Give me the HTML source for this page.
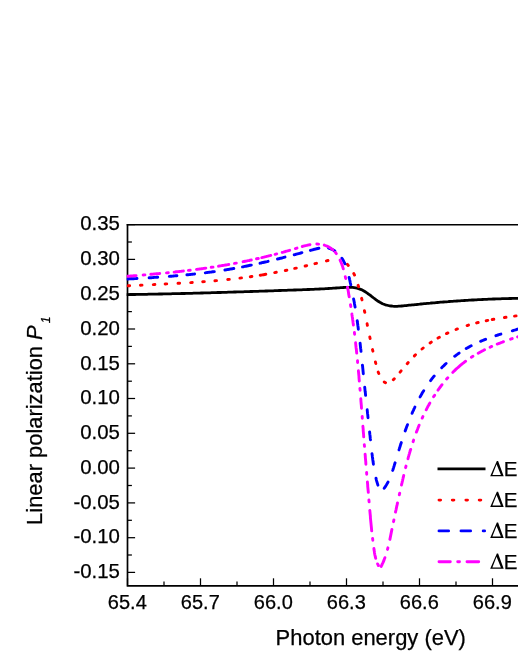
<!DOCTYPE html>
<html><head><meta charset="utf-8"><title>chart</title>
<style>html,body{margin:0;padding:0;background:#fff;overflow:hidden}svg{display:block;will-change:transform}text{font-family:"Liberation Sans",sans-serif;fill:#000;stroke:#000;stroke-width:0.25px}</style></head><body>
<svg width="518" height="670" viewBox="0 0 518 670">
<rect width="518" height="670" fill="#fff"/>
<g stroke="#000" stroke-width="1.7" fill="none">
<path d="M127.5 224.0 V585.9 H520"/>
<path d="M126.7 224.7 H520" stroke-width="1.45"/>
</g><g stroke="#000" stroke-width="1.25" fill="none">
<path d="M127.5 572.4h7.6"/>
<path d="M127.5 555.0h4.4"/>
<path d="M127.5 537.7h7.6"/>
<path d="M127.5 520.3h4.4"/>
<path d="M127.5 502.9h7.6"/>
<path d="M127.5 485.5h4.4"/>
<path d="M127.5 468.1h7.6"/>
<path d="M127.5 450.7h4.4"/>
<path d="M127.5 433.3h7.6"/>
<path d="M127.5 415.9h4.4"/>
<path d="M127.5 398.5h7.6"/>
<path d="M127.5 381.2h4.4"/>
<path d="M127.5 363.8h7.6"/>
<path d="M127.5 346.4h4.4"/>
<path d="M127.5 329.0h7.6"/>
<path d="M127.5 311.6h4.4"/>
<path d="M127.5 294.2h7.6"/>
<path d="M127.5 276.8h4.4"/>
<path d="M127.5 259.4h7.6"/>
<path d="M127.5 242.0h4.4"/>
<path d="M127.5 224.6h7.6"/>
<path d="M127.5 585.9v-7.6"/>
<path d="M164.0 585.9v-4.4"/>
<path d="M200.5 585.9v-7.6"/>
<path d="M237.0 585.9v-4.4"/>
<path d="M273.5 585.9v-7.6"/>
<path d="M310.0 585.9v-4.4"/>
<path d="M346.5 585.9v-7.6"/>
<path d="M383.0 585.9v-4.4"/>
<path d="M419.5 585.9v-7.6"/>
<path d="M456.0 585.9v-4.4"/>
<path d="M492.5 585.9v-7.6"/>
<path d="M529.0 585.9v-4.4"/>
</g>
<clipPath id="c"><rect x="126.7" y="224.6" width="400" height="361.3"/></clipPath>
<g fill="none" stroke-linejoin="round" stroke-linecap="round" clip-path="url(#c)">
<path d="M126.0 294.6L127.5 294.6L129.0 294.6L130.5 294.5L132.0 294.5L133.5 294.5L135.0 294.5L136.5 294.4L138.0 294.4L139.5 294.4L141.0 294.4L142.5 294.4L144.0 294.3L145.5 294.3L147.0 294.3L148.5 294.2L150.0 294.2L151.5 294.2L153.0 294.2L154.5 294.1L156.0 294.1L157.5 294.1L159.0 294.0L160.5 294.0L162.0 294.0L163.5 293.9L165.0 293.9L166.5 293.9L168.0 293.8L169.5 293.8L171.0 293.8L172.5 293.7L174.0 293.7L175.5 293.7L177.0 293.6L178.5 293.6L180.0 293.6L181.5 293.5L183.0 293.5L184.5 293.5L186.1 293.4L187.6 293.4L189.1 293.3L190.6 293.3L192.1 293.3L193.6 293.2L195.1 293.2L196.6 293.1L198.1 293.1L199.6 293.1L201.1 293.0L202.6 293.0L204.1 292.9L205.6 292.9L207.1 292.9L208.6 292.8L210.1 292.8L211.6 292.7L213.1 292.7L214.6 292.6L216.1 292.6L217.6 292.5L219.1 292.5L220.6 292.5L222.1 292.4L223.6 292.4L225.1 292.3L226.6 292.3L228.1 292.2L229.6 292.2L231.1 292.1L232.6 292.1L234.1 292.0L235.6 292.0L237.1 291.9L238.6 291.9L240.1 291.8L241.6 291.8L243.1 291.8L244.6 291.7L246.1 291.7L247.6 291.6L249.1 291.6L250.6 291.5L252.1 291.5L253.6 291.4L255.1 291.4L256.6 291.3L258.1 291.3L259.6 291.2L261.1 291.2L262.6 291.1L264.1 291.1L265.6 291.0L267.1 291.0L268.6 290.9L270.1 290.9L271.6 290.8L273.1 290.8L274.6 290.7L276.1 290.6L277.6 290.6L279.1 290.5L280.6 290.5L282.1 290.4L283.6 290.4L285.1 290.3L286.6 290.3L288.1 290.2L289.6 290.2L291.1 290.1L292.6 290.1L294.1 290.0L295.6 290.0L297.1 289.9L298.6 289.9L300.1 289.8L301.6 289.8L303.1 289.7L304.6 289.6L306.1 289.6L307.6 289.5L309.1 289.5L310.6 289.4L312.1 289.3L313.6 289.3L315.1 289.2L316.6 289.1L318.1 289.1L319.6 289.0L321.1 288.9L322.6 288.8L324.1 288.8L325.6 288.7L327.1 288.6L328.6 288.5L330.1 288.4L331.6 288.3L333.1 288.2L334.6 288.1L336.1 288.0L337.6 287.9L339.1 287.8L340.6 287.7L342.1 287.6L343.6 287.5L345.1 287.4L346.6 287.3L348.1 287.3L349.6 287.3L351.1 287.3L352.6 287.4L354.1 287.6L355.6 287.8L357.0 288.1L358.5 288.6L359.9 289.1L361.3 289.6L362.6 290.3L363.9 291.0L365.2 291.8L366.5 292.6L367.7 293.5L368.9 294.3L370.1 295.2L371.3 296.2L372.5 297.1L373.7 298.0L374.9 298.9L376.1 299.8L377.3 300.7L378.6 301.5L379.9 302.3L381.2 303.0L382.5 303.7L383.9 304.2L385.3 304.8L386.8 305.2L388.2 305.5L389.7 305.8L391.2 306.0L392.7 306.2L394.2 306.3L395.7 306.3L397.2 306.3L398.7 306.2L400.2 306.1L401.7 306.0L403.2 305.9L404.7 305.7L406.2 305.6L407.6 305.4L409.1 305.2L410.6 305.1L412.1 304.9L413.6 304.8L415.1 304.6L416.6 304.5L418.1 304.3L419.6 304.2L421.1 304.0L422.6 303.9L424.1 303.7L425.6 303.6L427.1 303.4L428.6 303.3L430.1 303.2L431.6 303.0L433.1 302.9L434.5 302.8L436.0 302.6L437.5 302.5L439.0 302.4L440.5 302.2L442.0 302.1L443.5 302.0L445.0 301.9L446.5 301.8L448.0 301.7L449.5 301.5L451.0 301.4L452.5 301.3L454.0 301.2L455.5 301.1L457.0 301.0L458.5 300.9L460.0 300.8L461.5 300.7L463.0 300.6L464.5 300.5L466.0 300.4L467.5 300.3L469.0 300.2L470.5 300.1L472.0 300.0L473.5 300.0L475.0 299.9L476.5 299.8L478.0 299.7L479.5 299.6L481.0 299.6L482.5 299.5L484.0 299.4L485.5 299.4L487.0 299.3L488.5 299.2L490.0 299.2L491.5 299.1L493.0 299.0L494.5 299.0L496.0 298.9L497.5 298.9L499.0 298.8L500.5 298.8L502.0 298.7L503.5 298.7L505.0 298.6L506.5 298.6L508.0 298.6L509.5 298.5L511.0 298.5L512.5 298.4L514.0 298.4L515.5 298.4L517.0 298.4L518.5 298.3L520.0 298.3" stroke="#000" stroke-width="2.8"/>
<path d="M128.0 285.8L129.6 285.7M140.4 285.2L142.0 285.1M153.3 284.6L154.9 284.5M165.1 284.0L166.7 283.9M178.0 283.3L179.6 283.2M190.7 282.6L192.3 282.5M202.7 281.7L204.3 281.6M214.9 280.8L216.5 280.6M227.7 279.5L229.3 279.4M239.9 278.1L241.5 277.9M250.3 276.7L251.9 276.5M260.2 275.2L261.3 275.1L262.4 274.9L263.6 274.7L264.7 274.5L265.8 274.3M274.7 272.6L276.3 272.3M285.3 270.5L286.9 270.2M294.7 268.4L296.3 268.1M305.1 266.0L306.7 265.7M314.9 263.7L316.5 263.3M326.4 260.9L328.0 260.5M347.3 264.3L348.3 265.4M353.8 273.6L354.5 275.0M358.1 285.3L358.6 286.7M361.6 298.3L362.0 299.9M364.4 310.7L364.8 312.3M367.1 323.8L367.4 325.4M369.8 337.0L370.1 338.6M372.5 349.6L372.9 351.2M375.4 361.9L375.8 363.5M378.2 372.1L378.8 373.5M384.2 381.9L385.5 382.7M393.3 379.8L394.3 378.7M400.1 372.1L401.1 370.9M407.2 363.7L408.2 362.5M414.4 355.9L415.5 354.8M422.0 349.0L423.2 348.0M430.1 343.0L431.3 342.1M438.0 338.0L439.4 337.3M446.5 333.6L447.9 332.9M456.0 329.5L457.4 328.9M467.1 325.6L468.5 325.1M476.6 322.9L478.2 322.5M486.2 320.7L487.8 320.4M492.2 319.5L493.8 319.3M504.4 317.5L506.0 317.3M514.5 316.1L516.1 315.9" stroke="#ff0000" stroke-width="2.9"/>
<path d="M127.1 279.0L128.2 279.0L129.3 278.9L130.4 278.9L131.5 278.8L132.6 278.8L133.7 278.7L134.8 278.6L135.9 278.6L137.0 278.5M149.1 277.8L150.2 277.7L151.3 277.7L152.3 277.6L153.4 277.5L154.5 277.4L155.5 277.4L156.6 277.3L157.7 277.2M169.3 276.4L170.4 276.3L171.5 276.2L172.6 276.1L173.6 276.0L174.7 275.9L175.8 275.8L176.9 275.7M186.9 274.8L188.0 274.7L189.1 274.6L190.2 274.5L191.3 274.4L192.4 274.2L193.5 274.1L194.6 274.0M205.3 272.8L206.3 272.6L207.3 272.5L208.3 272.4L209.3 272.2L210.3 272.1L211.3 272.0L212.3 271.8L213.3 271.7L214.3 271.6M224.9 270.0L225.9 269.8L226.9 269.7L227.9 269.5L228.9 269.3L229.8 269.2L230.8 269.0L231.8 268.8L232.8 268.7L233.8 268.5M242.5 266.9L243.6 266.7L244.7 266.4L245.8 266.2L246.9 266.0L248.0 265.8L249.1 265.5L250.2 265.3L251.3 265.1M260.0 263.2L261.0 263.0L262.0 262.7L263.0 262.5L264.1 262.3L265.1 262.0L266.1 261.8L267.1 261.6L268.1 261.3M277.5 259.0L278.6 258.8L279.6 258.5L280.7 258.2L281.8 258.0L282.9 257.7L283.9 257.4L285.0 257.1M294.2 254.7L295.3 254.5L296.4 254.2L297.5 253.9L298.6 253.6L299.7 253.3L300.8 253.0L301.9 252.7M310.4 250.4L311.4 250.1L312.5 249.8L313.6 249.5L314.6 249.2L315.7 249.0L316.7 248.7L317.8 248.5L318.9 248.3M328.6 248.2L329.7 248.5L330.8 248.9L331.8 249.3L332.8 249.8L333.8 250.3L334.8 251.0M341.9 258.2L342.5 259.1L343.0 260.0L343.5 260.9L344.0 261.9L344.5 262.8L344.9 263.8M349.1 277.5L349.4 278.5L349.6 279.6L349.9 280.7L350.1 281.7L350.3 282.8L350.6 283.8L350.8 284.9M353.6 299.0L353.8 300.0L354.0 301.0L354.2 302.0L354.4 303.0L354.5 304.0L354.7 305.0L354.9 306.0L355.1 307.0M357.2 320.7L357.3 321.8L357.5 322.8L357.6 323.9L357.8 324.9L357.9 326.0L358.1 327.1L358.2 328.1L358.3 329.2M360.1 343.1L360.2 344.1L360.3 345.2L360.4 346.2L360.5 347.2L360.6 348.2L360.8 349.2L360.9 350.3L361.0 351.3M362.4 365.1L362.6 366.2L362.7 367.3L362.8 368.3L362.9 369.4L363.0 370.5L363.1 371.5L363.2 372.6L363.3 373.7M364.7 387.1L364.8 388.2L364.9 389.2L365.0 390.2L365.1 391.3L365.3 392.3L365.4 393.3L365.5 394.3L365.6 395.4M367.2 409.8L367.3 410.9L367.4 412.1L367.5 413.2L367.7 414.3L367.8 415.4L367.9 416.6L368.0 417.7M369.6 431.9L369.7 433.0L369.8 434.2L370.0 435.3L370.1 436.4L370.2 437.5L370.3 438.7L370.5 439.8M372.0 453.8L372.2 454.9L372.3 455.9L372.4 456.9L372.6 458.0L372.7 459.0L372.8 460.0L373.0 461.1L373.1 462.1L373.3 463.2L373.4 464.2M376.0 478.1L376.2 479.1L376.4 480.1L376.7 481.2L377.0 482.2L377.3 483.2L377.6 484.2L377.9 485.2M384.2 488.3L384.8 487.4L385.4 486.6L385.9 485.7L386.5 484.8L387.0 483.9L387.5 483.0L388.0 482.1M392.7 470.4L393.0 469.5L393.3 468.5L393.6 467.6L393.9 466.6L394.2 465.7L394.5 464.7L394.8 463.7L395.1 462.8M399.0 449.9L399.3 448.9L399.6 447.8L400.0 446.8L400.3 445.7L400.6 444.7L401.0 443.6L401.3 442.6M405.2 430.9L405.6 429.9L406.0 428.8L406.3 427.8L406.7 426.7L407.1 425.7L407.5 424.7M412.1 413.3L412.5 412.2L413.0 411.2L413.5 410.1L413.9 409.1L414.4 408.1L414.9 407.0M420.1 396.9L420.6 396.0L421.1 395.1L421.6 394.2L422.1 393.3L422.6 392.4L423.2 391.5L423.7 390.7M430.6 380.6L431.3 379.7L432.0 378.7L432.7 377.8L433.4 376.9L434.2 376.0M441.7 367.7L442.4 367.0L443.1 366.3L443.9 365.6L444.6 364.9L445.3 364.2L446.1 363.5M454.7 356.3L455.6 355.7L456.4 355.0L457.3 354.4L458.2 353.7L459.1 353.1M466.2 348.6L467.2 348.0L468.2 347.4L469.2 346.9L470.2 346.3L471.2 345.8M480.6 341.3L481.6 340.9L482.6 340.5L483.6 340.1L484.6 339.7L485.6 339.3M495.9 335.7L496.9 335.3L497.9 335.0L498.9 334.7L499.9 334.4L500.9 334.1M512.3 330.8L513.4 330.5L514.5 330.1L515.6 329.8L516.6 329.5L517.7 329.2L518.8 328.9L519.9 328.6" stroke="#0000ff" stroke-width="2.9"/>
<path d="M127.1 276.3L128.2 276.2L129.4 276.1L130.5 276.0L131.6 276.0L132.7 275.9L133.8 275.8L135.0 275.7L136.1 275.6M143.1 275.0L144.9 274.9M150.8 274.3L151.9 274.2L153.0 274.1L154.1 274.0L155.3 273.9L156.4 273.8L157.5 273.7L158.6 273.6L159.7 273.5M166.5 272.9L168.3 272.7M174.1 272.1L175.1 272.0L176.2 271.8L177.2 271.7L178.2 271.6L179.3 271.5L180.3 271.4L181.3 271.3L182.4 271.1L183.4 271.0M188.4 270.4L190.2 270.2M196.5 269.4L197.5 269.3L198.6 269.1L199.6 269.0L200.6 268.9L201.7 268.7L202.7 268.6L203.7 268.4L204.8 268.3L205.8 268.1M211.2 267.3L213.0 267.1M218.5 266.2L219.5 266.0L220.6 265.9L221.6 265.7L222.6 265.5L223.7 265.4L224.7 265.2L225.7 265.0L226.7 264.8L227.8 264.6L228.8 264.5M234.5 263.4L236.3 263.1M243.1 261.7L244.1 261.5L245.2 261.3L246.2 261.1L247.2 260.9L248.2 260.7L249.3 260.5L250.3 260.2L251.3 260.0M256.5 258.8L258.3 258.5M261.8 257.6L262.8 257.4L263.8 257.2L264.8 256.9L265.8 256.7L266.8 256.4L267.8 256.2L268.8 255.9L269.8 255.7L270.8 255.4M275.1 254.3L276.7 253.9M282.2 252.4L283.3 252.1L284.3 251.8L285.4 251.5L286.5 251.2L287.6 250.9L288.6 250.6L289.7 250.3M295.4 248.6L297.0 248.1M302.3 246.5L303.4 246.2L304.5 245.9L305.6 245.6L306.7 245.4L307.8 245.1L308.9 244.9L310.0 244.7M316.8 244.0L318.6 244.1M324.3 245.1L325.3 245.5L326.4 245.9L327.4 246.3L328.4 246.8L329.3 247.3L330.3 247.9L331.2 248.5L332.0 249.2L332.9 249.9M335.2 252.2L336.3 253.6M340.1 260.1L340.5 261.1L340.9 262.0L341.3 263.0L341.7 263.9L342.0 264.9L342.4 265.9L342.7 266.8L343.0 267.8L343.3 268.8M345.3 276.7L345.7 278.5M347.5 287.1L347.7 288.2L347.9 289.3L348.1 290.3L348.3 291.4L348.5 292.5L348.6 293.6L348.8 294.6L349.0 295.7L349.2 296.8M350.5 304.8L350.8 306.6M351.9 314.0L352.0 315.0L352.2 316.0L352.3 317.0L352.5 318.0L352.6 319.0L352.7 320.0L352.9 321.0L353.0 322.0L353.1 323.0L353.3 324.0L353.4 325.0M354.4 332.4L354.6 334.2M355.6 342.8L355.7 343.8L355.8 344.9L355.9 345.9L356.0 346.9L356.1 347.9L356.3 349.0L356.4 350.0L356.5 351.0L356.6 352.1L356.7 353.1M357.5 360.7L357.6 362.5M358.4 370.8L358.5 371.8L358.6 372.9L358.7 373.9L358.8 374.9L358.9 375.9L359.0 376.9L359.0 377.9L359.1 378.9L359.2 380.0L359.3 381.0M359.9 388.4L360.1 390.2M360.8 398.8L360.9 399.9L360.9 400.9L361.0 401.9L361.1 403.0L361.2 404.0L361.3 405.1L361.4 406.1L361.4 407.1L361.5 408.2M362.2 416.4L362.3 418.2M362.9 426.3L363.0 427.4L363.1 428.4L363.2 429.5L363.2 430.5L363.3 431.6L363.4 432.6L363.5 433.6L363.6 434.7L363.6 435.7L363.7 436.8M364.3 444.6L364.5 446.4M365.1 454.1L365.2 455.1L365.3 456.1L365.3 457.1L365.4 458.1L365.5 459.2L365.6 460.2L365.7 461.2L365.8 462.2L365.8 463.2L365.9 464.2M366.6 472.4L366.7 474.2M367.4 481.9L367.5 483.0L367.6 484.0L367.7 485.0L367.7 486.1L367.8 487.1L367.9 488.1L368.0 489.2L368.1 490.2L368.2 491.2L368.3 492.3M368.9 500.0L369.1 501.8M369.8 510.4L369.9 511.4L370.0 512.5L370.1 513.5L370.2 514.5L370.3 515.5L370.4 516.5L370.4 517.6L370.5 518.6L370.6 519.6L370.7 520.6L370.8 521.6L370.9 522.6L371.0 523.7L371.1 524.7L371.2 525.7L371.3 526.7L371.4 527.7L371.5 528.7L371.6 529.8L371.7 530.8M372.6 538.4L372.8 540.2M373.9 548.5L374.0 549.6L374.2 550.7L374.4 551.8L374.5 552.9L374.7 554.0L374.9 555.1L375.2 556.2L375.4 557.2L375.7 558.3M377.6 563.9L378.4 565.5M381.2 566.4L381.6 565.5L382.1 564.5L382.5 563.5L383.0 562.6L383.4 561.6L383.8 560.6L384.2 559.6L384.5 558.7L384.9 557.7M387.5 549.4L387.9 547.8M389.9 539.4L390.1 538.4L390.3 537.4L390.5 536.4L390.7 535.4L390.9 534.4L391.1 533.4L391.3 532.4L391.5 531.4L391.7 530.4L391.9 529.4M393.5 521.7L393.9 519.9M395.5 512.1L395.7 511.1L396.0 510.1L396.2 509.0L396.4 508.0L396.6 507.0L396.8 506.0L397.1 504.9L397.3 503.9L397.5 502.9M399.3 494.9L399.7 493.1M401.5 485.1L401.7 484.0L402.0 482.9L402.2 481.9L402.5 480.8L402.7 479.7L403.0 478.6L403.2 477.5L403.5 476.5L403.7 475.4M405.6 467.7L406.0 466.1M408.0 458.8L408.2 457.8L408.5 456.7L408.8 455.7L409.1 454.6L409.4 453.6L409.7 452.5L410.0 451.5L410.3 450.4L410.7 449.4M413.1 441.7L413.6 440.1M416.4 432.1L416.8 431.2L417.2 430.2L417.6 429.2L417.9 428.2L418.3 427.2L418.7 426.2L419.1 425.2M422.2 418.1L422.9 416.5M426.2 409.8L426.7 408.8L427.2 407.9L427.7 406.9L428.2 405.9L428.8 405.0L429.3 404.0L429.8 403.1M433.6 396.7L434.6 395.3M438.0 390.1L438.7 389.2L439.3 388.3L440.0 387.3L440.7 386.5L441.3 385.6L442.0 384.7M446.6 379.0L447.8 377.7M452.8 372.4L453.5 371.6L454.3 370.9L455.1 370.1L455.8 369.4L456.6 368.7L457.4 368.0L458.2 367.3L459.0 366.6L459.8 365.9L460.6 365.2L461.4 364.5L462.2 363.9L463.1 363.2L463.9 362.6L464.7 361.9L465.6 361.3M471.4 357.2L472.9 356.3M478.2 353.2L479.1 352.7L480.0 352.2L480.9 351.7L481.8 351.2L482.7 350.7L483.6 350.3L484.5 349.8M490.1 347.2L491.7 346.4M497.2 344.1L498.3 343.7L499.3 343.3L500.4 342.9L501.4 342.5L502.5 342.1L503.5 341.7M510.6 339.2L512.2 338.6M517.6 336.9L518.7 336.6L519.9 336.2" stroke="#ff00ff" stroke-width="2.9"/>
</g>
<g font-size="20.4">
<text x="119.9" y="578.1" text-anchor="end">-0.15</text>
<text x="119.9" y="543.4" text-anchor="end">-0.10</text>
<text x="119.9" y="508.6" text-anchor="end">-0.05</text>
<text x="119.9" y="473.8" text-anchor="end">0.00</text>
<text x="119.9" y="439.0" text-anchor="end">0.05</text>
<text x="119.9" y="404.2" text-anchor="end">0.10</text>
<text x="119.9" y="369.5" text-anchor="end">0.15</text>
<text x="119.9" y="334.7" text-anchor="end">0.20</text>
<text x="119.9" y="299.9" text-anchor="end">0.25</text>
<text x="119.9" y="265.1" text-anchor="end">0.30</text>
<text x="119.9" y="230.3" text-anchor="end">0.35</text>
<text x="127.3" y="609.2" text-anchor="middle" font-size="20">65.4</text>
<text x="200.3" y="609.2" text-anchor="middle" font-size="20">65.7</text>
<text x="273.3" y="609.2" text-anchor="middle" font-size="20">66.0</text>
<text x="346.3" y="609.2" text-anchor="middle" font-size="20">66.3</text>
<text x="419.3" y="609.2" text-anchor="middle" font-size="20">66.6</text>
<text x="492.3" y="609.2" text-anchor="middle" font-size="20">66.9</text>
</g>
<text x="275.6" y="644.6" font-size="21.95">Photon energy (eV)</text>
<text transform="translate(41.8 524.9) rotate(-90)" font-size="21.9">Linear polarization <tspan font-style="italic">P</tspan><tspan font-style="italic" font-size="12" dx="2" dy="8">1</tspan></text>
<g fill="none" stroke-linecap="round">
<path d="M437.5 468.8h48" stroke="#000" stroke-width="2.8" stroke-linecap="butt"/>
<path d="M439 500.1h1.6M452.3 500.1h1.6M465.9 500.1h1.6M479.2 500.1h1.6" stroke="#f00" stroke-width="2.9"/>
<path d="M439 530.9h9.6M461 530.9h9.6M483.2 530.9h1.4" stroke="#00f" stroke-width="2.9"/>
<path d="M439 561.7h11.3M457.7 561.7h1.8M467 561.7h11.7" stroke="#f0f" stroke-width="2.9"/>
</g>
<g font-size="20.5">
<path fill="#000" fill-rule="evenodd" d="M490.2 476.3L496.85 460.9h1.25L503.7 476.3ZM492.4 474.9L496.55 464.2L500.9 474.9Z"/>
<text x="503.7" y="476.1">E</text>
<path fill="#000" fill-rule="evenodd" d="M490.2 507.1L496.85 491.7h1.25L503.7 507.1ZM492.4 505.6L496.55 495.0L500.9 505.6Z"/>
<text x="503.7" y="506.9">E</text>
<path fill="#000" fill-rule="evenodd" d="M490.2 538.0L496.85 522.6h1.25L503.7 538.0ZM492.4 536.5L496.55 525.9L500.9 536.5Z"/>
<text x="503.7" y="537.8">E</text>
<path fill="#000" fill-rule="evenodd" d="M490.2 568.8L496.85 553.4h1.25L503.7 568.8ZM492.4 567.4L496.55 556.7L500.9 567.4Z"/>
<text x="503.7" y="568.6">E</text>
</g>
</svg></body></html>
